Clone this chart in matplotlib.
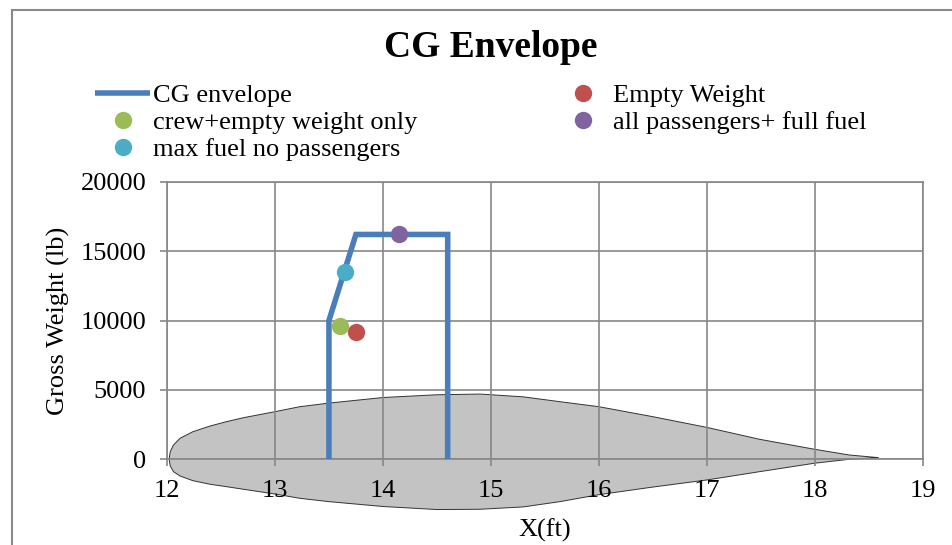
import matplotlib
matplotlib.use("Agg")
import matplotlib.pyplot as plt
from matplotlib.patches import Rectangle

plt.rcParams['font.family'] = ['Liberation Serif', 'DejaVu Serif']

# CG envelope outline (X in ft, gross weight in lb)
env_x = [13.5, 13.5, 13.75, 14.6, 14.6]
env_y = [0, 10000, 16200, 16200, 0]

# loading points
pt_labels = ["Empty Weight", "crew+empty weight only", "max fuel no passengers",
             "all passengers+ full fuel"]
pt_x = [13.75, 13.60, 13.65, 14.15]
pt_y = [9200, 9600, 13500, 16200]
pt_colors = ["#C0504D", "#9BBB59", "#4BACC6", "#8064A2"]

# airfoil silhouette (upper surface then lower surface)
foil_x = [12.02, 12.025, 12.03, 12.06, 12.12, 12.24, 12.40, 12.55, 12.71, 13.0,
          13.23, 13.5, 14.0, 14.5, 14.9, 15.3, 15.64, 16.0, 16.5, 17.0, 17.49,
          18.0, 18.32, 18.59]
foil_up = [0, 300, 550, 1030, 1510, 1990, 2400, 2710, 3000, 3430,
           3790, 4050, 4450, 4650, 4700, 4500, 4150, 3790, 3070, 2300, 1440,
           720, 310, 120]
foil_lo = [0, -250, -480, -890, -1200, -1540, -1800, -1970, -2160, -2500,
           -2810, -3050, -3400, -3620, -3600, -3430, -3050, -2550, -2000, -1490, -890,
           -280, 0, 120]

fig = plt.figure(figsize=(9.53, 5.45), dpi=100)
ax = fig.add_axes([167 / 953, 1 - 459.3 / 545, 755.7 / 953, 277.6 / 545])

ax.fill(foil_x + foil_x[::-1], foil_up + foil_lo[::-1], facecolor="#C3C3C3",
        edgecolor="#333333", linewidth=0.7, clip_on=False, zorder=0.2,
        joinstyle="round")

env_line, = ax.plot(env_x, env_y, color="#4A7EBB", linewidth=4, zorder=3,
                    solid_joinstyle="miter", solid_capstyle="butt", label="CG envelope")

handles = {}
for lab, x, y, c in zip(pt_labels, pt_x, pt_y, pt_colors):
    h, = ax.plot([x], [y], "o", color=c, markersize=12.5, markeredgewidth=0,
                 zorder=4, label=lab)
    handles[lab] = h

ax.set_xlim(12, 19)
ax.set_ylim(0, 20000)
ax.set_xticks(range(12, 20))
ax.set_yticks(range(0, 20001, 5000))
ax.set_axisbelow(True)
ax.grid(True, color="#878787", linewidth=1.2)
for s in ax.spines.values():
    s.set_color("#878787")
    s.set_linewidth(1.2)
ax.tick_params(axis="both", direction="out", length=5, width=1.2, color="#878787",
               labelsize=19)
ax.tick_params(axis="x", pad=10)
ax.tick_params(axis="y", pad=10)

ax.set_xlabel("X(ft)", fontsize=19)
ax.set_ylabel("Gross Weight (lb)", fontsize=19)
ax.xaxis.set_label_coords(0.5, -0.215)
ax.yaxis.set_label_coords(-0.128, 0.5)

fig.text(491 / 953, 1 - 57 / 545, "CG Envelope", fontsize=27, fontweight="bold",
         ha="center", va="baseline")

order = [env_line, handles[pt_labels[1]], handles[pt_labels[2]],
         handles[pt_labels[0]], handles[pt_labels[3]]]
fig.legend(handles=order, labels=[h.get_label() for h in order], ncol=2,
           loc="upper left", bbox_to_anchor=(95 / 953, 1 - 84 / 545),
           frameon=False, fontsize=19, handlelength=2.1, handletextpad=0.1,
           labelspacing=0.13, columnspacing=5.22, borderpad=0, borderaxespad=0)

# outer chart-area border (partly cropped in the picture)
fig.patches.append(Rectangle((11.7 / 953, -0.5), 1.5, 1.5 - 10 / 545,
                             transform=fig.transFigure, fill=False,
                             edgecolor="#8A8A8A", linewidth=1.5))

fig.savefig("out.png", dpi=100)
